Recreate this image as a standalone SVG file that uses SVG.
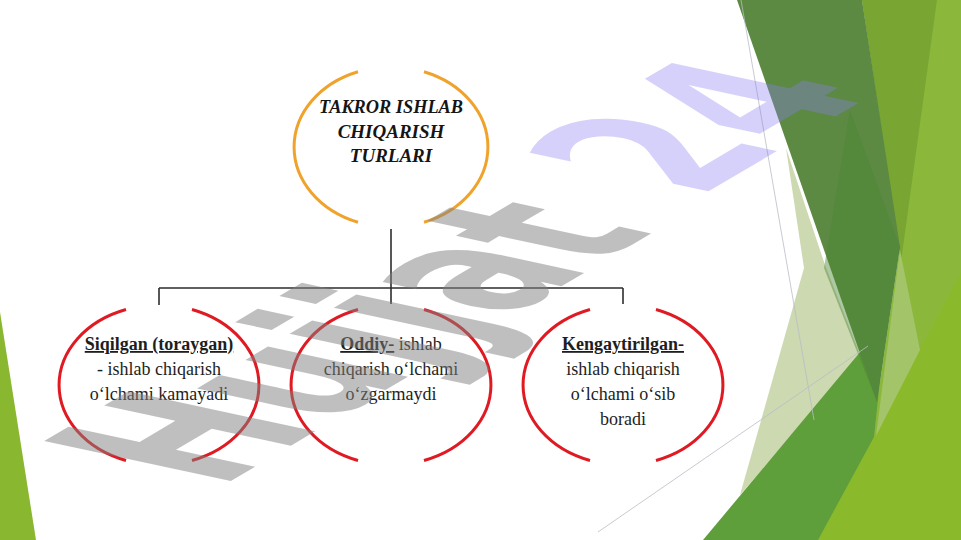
<svg xmlns="http://www.w3.org/2000/svg" width="961" height="540" viewBox="0 0 961 540">
  <style>
    .t { font-family: "Liberation Serif", "Times New Roman", serif; font-size: 18px; fill: #1e1e1e; text-anchor: middle; }
    .title { font-family: "Liberation Serif", "Times New Roman", serif; font-size: 19px; font-weight: bold; font-style: italic; fill: #151515; text-anchor: middle; }
    .b { font-weight: bold; text-decoration: underline; }
    .orange { fill: none; stroke: #f0a32c; stroke-width: 3; }
    .red { fill: none; stroke: #e01a22; stroke-width: 3; }
    .conn { fill: none; stroke: #2e2e2e; stroke-width: 1.6; }
    .thin { fill: none; stroke: #b9bcc6; stroke-width: 0.8; }
  </style>
  <rect x="0" y="0" width="961" height="540" fill="#ffffff"/>

  <!-- background facets -->
  <g id="facets">
    <polygon points="0,312 36,540 0,540" fill="#8ab730"/>
    <polygon points="862,0 961,0 961,540 815,540 877,402 900,247" fill="#8bb83b"/>
    <polygon points="818,540 961,272 961,540" fill="#8bb92c"/>
    <polygon points="862,0 937,0 901,262" fill="#79a633"/>
    <polygon points="900,250 920,350 876,436" fill="#a4c46a"/>
    <polygon points="786,148 825,265 860,355 740,495 804,268" fill="#cdd9b1"/>
    <polygon points="703,540 866,345 884,342 874,437 818,540" fill="#5f9f3b"/>
    <polygon points="737,0 862,0 900,247 877,402" fill="#5c8a43"/>
    <polygon points="850,110 900,247 877,402 824,268" fill="#4c8533" opacity="0.45"/>
    <line class="thin" x1="741" y1="0" x2="814" y2="420"/>
    <line class="thin" x1="598" y1="532" x2="868" y2="346"/>
  </g>

  <g id="connectors">
    <path class="conn" d="M391,229 V304 M159,288 H623 M159,288 V305 M623,288 V304"/>
  </g>

  <g id="node-root">
    <path class="orange" d="M358,71.8 A97,80 0 0 0 358,222.2 M424,71.8 A97,80 0 0 1 424,222.2"/>
    <text class="title" x="391" y="113" textLength="144" lengthAdjust="spacingAndGlyphs">TAKROR ISHLAB</text>
    <text class="title" x="391" y="138">CHIQARISH</text>
    <text class="title" x="391" y="162">TURLARI</text>
  </g>

  <g id="node-siqilgan">
    <path class="red" d="M126,309.5 A100,80 0 0 0 126,460.5 M192,309.5 A100,80 0 0 1 192,460.5"/>
    <text class="t" x="159" y="350"><tspan class="b">Siqilgan (toraygan)</tspan></text>
    <text class="t" x="159" y="375">- ishlab chiqarish</text>
    <text class="t" x="159" y="400">o‘lchami kamayadi</text>
  </g>

  <g id="node-oddiy">
    <path class="red" d="M358,309.5 A100,80 0 0 0 358,460.5 M424,309.5 A100,80 0 0 1 424,460.5"/>
    <text class="t" x="391" y="350"><tspan class="b">Oddiy-</tspan> ishlab</text>
    <text class="t" x="391" y="375">chiqarish o‘lchami</text>
    <text class="t" x="391" y="400">o‘zgarmaydi</text>
  </g>

  <g id="node-kengaytirilgan">
    <path class="red" d="M590,309.5 A100,80 0 0 0 590,460.5 M656,309.5 A100,80 0 0 1 656,460.5"/>
    <text class="t" x="623" y="350"><tspan class="b">Kengaytirilgan-</tspan></text>
    <text class="t" x="623" y="375">ishlab chiqarish</text>
    <text class="t" x="623" y="400">o‘lchami o‘sib</text>
    <text class="t" x="623" y="425">boradi</text>
  </g>

  <g id="watermark">
    <text transform="matrix(1.29 -0.76 2.56 0.55 219 488)" font-family="'DejaVu Sans', Verdana, sans-serif" font-weight="bold" font-size="100"><tspan fill="#7f7f7f" fill-opacity="0.5">Hujjat</tspan><tspan fill="#8a7cf0" fill-opacity="0.35" dx="6" dy="-4"> 24</tspan></text>
  </g>
</svg>
